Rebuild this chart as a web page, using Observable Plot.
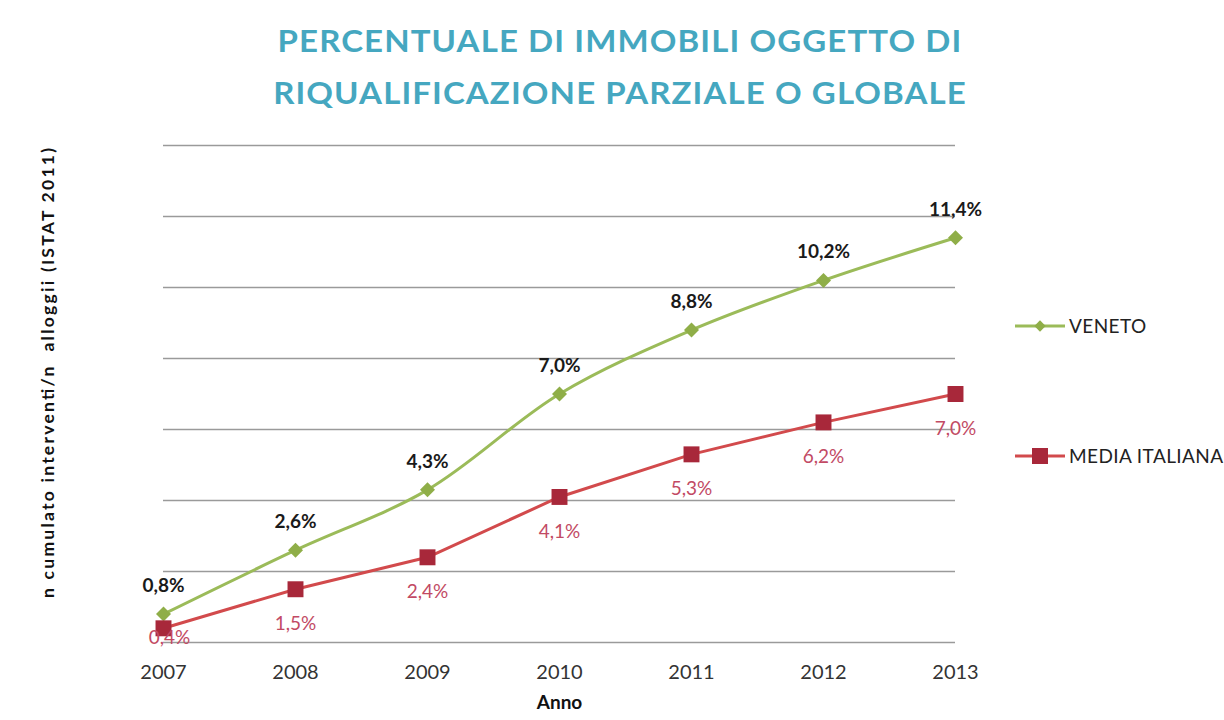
<!DOCTYPE html>
<html>
<head>
<meta charset="utf-8">
<script src="https://cdn.jsdelivr.net/npm/d3@7"></script>
<script src="https://cdn.jsdelivr.net/npm/@observablehq/plot@0.6"></script>
<style>
  html, body { margin: 0; padding: 0; background: #ffffff; }
  body { width: 1224px; height: 720px; position: relative; overflow: hidden; font-family: Lato, "Open Sans", sans-serif; }
  #title { position: absolute; left: 0; top: 14px; width: 1240px; text-align: center; color: #45a7c0; font-weight: 700; font-size: 30px; line-height: 52px; letter-spacing: 1px; transform: scaleX(1.1); transform-origin: 620px 0; }
  #chart { position: absolute; left: 0; top: 120px; }
  #chart svg { overflow: visible; }
  .leg { position: absolute; left: 1013px; display: flex; align-items: center; font-size: 19px; letter-spacing: 0.4px; color: #222; white-space: nowrap; }
  .leg svg { margin-right: 2px; }
</style>
</head>
<body>
<div id="title">PERCENTUALE DI IMMOBILI OGGETTO DI<br>RIQUALIFICAZIONE PARZIALE O GLOBALE</div>
<div id="chart"></div>
<div class="leg" style="top:314px"><svg width="54" height="22"><line x1="2" x2="52" y1="11" y2="11" stroke="#9bbb59" stroke-width="3"/><rect x="23" y="7" width="8" height="8" fill="#8fae48" transform="rotate(45 27 11)"/></svg>VENETO</div>
<div class="leg" style="top:444px"><svg width="54" height="22"><line x1="2" x2="52" y1="11" y2="11" stroke="#d24a4c" stroke-width="3"/><rect x="19" y="3" width="16" height="16" fill="#a8283a"/></svg>MEDIA ITALIANA</div>
<script>
const years = [2007, 2008, 2009, 2010, 2011, 2012, 2013];
const veneto = [0.8, 2.6, 4.3, 7.0, 8.8, 10.2, 11.4];
const mediaItaliana = [0.4, 1.5, 2.4, 4.1, 5.3, 6.2, 7.0];
const gridTicks = [0, 2, 4, 6, 8, 10, 12, 14];
const seriesNames = ["VENETO", "MEDIA ITALIANA"];
const xLabel = "Anno";
const yLabel = "n cumulato interventi/n  alloggii (ISTAT 2011)";

const dataV = years.map((y, i) => ({year: y, value: veneto[i], series: seriesNames[0]}));
const dataM = years.map((y, i) => ({year: y, value: mediaItaliana[i], series: seriesNames[1]}));
const fmt = v => v.toFixed(1).replace(".", ",") + "%";

const plot = Plot.plot({
  width: 1224,
  height: 600,
  marginLeft: 163,
  marginRight: 269,
  marginTop: 25,
  marginBottom: 78,
  style: {fontFamily: "Lato, 'Open Sans', sans-serif", background: "white", overflow: "visible"},
  x: {type: "linear", domain: [2007, 2013], ticks: years, tickFormat: d => String(d), tickSize: 0, tickPadding: 22, label: null},
  y: {domain: [0, 14], axis: null},
  marks: [
    Plot.ruleY(gridTicks, {stroke: "#9a9a9a", strokeWidth: 1.3}),
    Plot.line(dataV, {x: "year", y: "value", stroke: "#9bbb59", strokeWidth: 3, curve: "catmull-rom"}),
    Plot.line(dataM, {x: "year", y: "value", stroke: "#d24a4c", strokeWidth: 3}),
    Plot.dot(dataV, {x: "year", y: "value", symbol: "square", rotate: 45, r: 6, fill: "#8fae48", stroke: "none"}),
    Plot.dot(dataM, {x: "year", y: "value", symbol: "square", r: 9, fill: "#a8283a", stroke: "none"}),
    Plot.text(dataV, {x: "year", y: "value", text: d => fmt(d.value), dy: -28, fontSize: 19, fontWeight: 700, fill: "#1a1a1a"}),
    Plot.text(dataM.filter(d => d.year !== 2007), {x: "year", y: "value", text: d => fmt(d.value), dy: 35, fontSize: 19, fill: "#c24a64"}),
    Plot.text(dataM.filter(d => d.year === 2007), {x: "year", y: "value", text: d => fmt(d.value), dy: 10, dx: 6, fontSize: 19, fill: "#c24a64"}),
    Plot.text([xLabel], {frameAnchor: "bottom", dy: 66, fontSize: 19, fontWeight: 700, fill: "#111"}),
    Plot.text([yLabel], {frameAnchor: "left", textAnchor: "middle", rotate: -90, dx: -115, dy: -21, fontSize: 17.5, fontWeight: 700, fill: "#111"})
  ]
});
const svg = d3.select(plot);
svg.selectAll("g[aria-label='x-axis tick label']").attr("font-size", 20).attr("fill", "#333");
svg.selectAll("text").filter(function() { return this.textContent === yLabel; }).attr("textLength", 450).attr("lengthAdjust", "spacing");
document.getElementById("chart").appendChild(plot);
</script>
</body>
</html>
